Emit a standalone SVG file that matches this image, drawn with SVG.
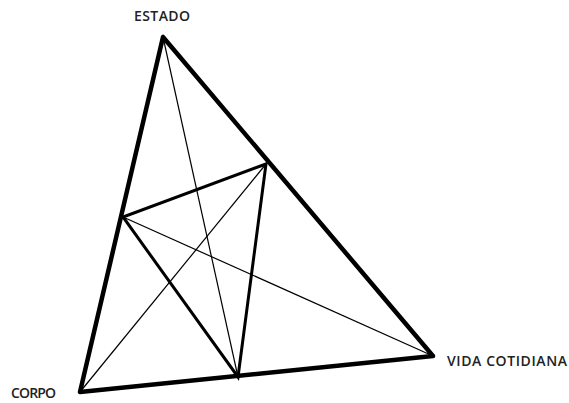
<svg xmlns="http://www.w3.org/2000/svg" width="569" height="403" viewBox="0 0 569 403">
<style>
.lbl{font-family:"Open Sans","Liberation Sans",sans-serif;font-size:14px;fill:#222;font-weight:600}
.thick{stroke:#000;stroke-width:4.5;fill:none;stroke-linecap:round;stroke-linejoin:round}
.mid{stroke:#000;stroke-width:3;fill:none;stroke-linecap:round}
.thin{stroke:#000;stroke-width:1.2;fill:none}
</style>
<rect width="569" height="403" fill="#fff"/>
<g id="connectors">
<path class="thin" d="M163 37 L238 377"/>
<path class="thin" d="M80 392 L266 164"/>
<path class="thin" d="M433 356 L123 217"/>
<path class="mid" d="M266 164 L123 217 L238 377 Z"/>
<path class="thick" d="M163 37 L80 392 L433 356 Z"/>
</g>
<g id="estado"><text class="lbl" x="134" y="21" textLength="56">ESTADO</text></g>
<g id="corpo"><text class="lbl" x="11" y="398" textLength="45">CORPO</text></g>
<g id="vida"><text class="lbl" x="447" y="366" textLength="120">VIDA COTIDIANA</text></g>
</svg>
